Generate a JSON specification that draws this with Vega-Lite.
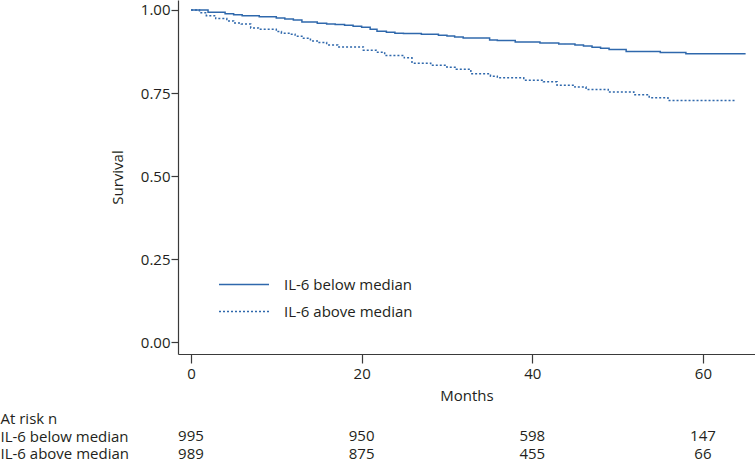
{
  "$schema": "https://vega.github.io/schema/vega-lite/v6.json",
  "padding": {"left": 0, "top": 0, "right": 0, "bottom": 0},
  "autosize": {"type": "pad"},
  "bounds": "flush",
  "spacing": 64.5,
  "config": {
    "view": {"stroke": null},
    "font": "Open Sans",
    "axis": {
      "labelFont": "Open Sans",
      "titleFont": "Open Sans",
      "labelFontSize": 15,
      "titleFontSize": 15,
      "titleFontWeight": "normal",
      "labelColor": "#231f20",
      "titleColor": "#231f20",
      "domainColor": "#3a3a3a",
      "tickColor": "#3a3a3a",
      "domainWidth": 1.2,
      "tickWidth": 1.2,
      "grid": false
    },
    "legend": {
      "labelFont": "Open Sans",
      "labelFontSize": 15,
      "labelColor": "#231f20"
    }
  },
  "datasets": {
    "km": [
      {"group": "IL-6 below median", "month": 0, "surv": 1.0},
      {"group": "IL-6 below median", "month": 2.0, "surv": 0.993},
      {"group": "IL-6 below median", "month": 4.0, "surv": 0.989},
      {"group": "IL-6 below median", "month": 5.0, "surv": 0.986},
      {"group": "IL-6 below median", "month": 6.0, "surv": 0.983},
      {"group": "IL-6 below median", "month": 8.0, "surv": 0.980},
      {"group": "IL-6 below median", "month": 10.0, "surv": 0.976},
      {"group": "IL-6 below median", "month": 11.0, "surv": 0.973},
      {"group": "IL-6 below median", "month": 12.0, "surv": 0.970},
      {"group": "IL-6 below median", "month": 13.0, "surv": 0.964},
      {"group": "IL-6 below median", "month": 14.8, "surv": 0.960},
      {"group": "IL-6 below median", "month": 15.9, "surv": 0.958},
      {"group": "IL-6 below median", "month": 16.9, "surv": 0.956},
      {"group": "IL-6 below median", "month": 18.0, "surv": 0.954},
      {"group": "IL-6 below median", "month": 19.0, "surv": 0.951},
      {"group": "IL-6 below median", "month": 20.0, "surv": 0.948},
      {"group": "IL-6 below median", "month": 21.0, "surv": 0.942},
      {"group": "IL-6 below median", "month": 21.8, "surv": 0.936},
      {"group": "IL-6 below median", "month": 22.9, "surv": 0.933},
      {"group": "IL-6 below median", "month": 23.9, "surv": 0.930},
      {"group": "IL-6 below median", "month": 24.9, "surv": 0.929},
      {"group": "IL-6 below median", "month": 27.0, "surv": 0.927},
      {"group": "IL-6 below median", "month": 29.0, "surv": 0.924},
      {"group": "IL-6 below median", "month": 30.0, "surv": 0.922},
      {"group": "IL-6 below median", "month": 30.9, "surv": 0.919},
      {"group": "IL-6 below median", "month": 31.9, "surv": 0.916},
      {"group": "IL-6 below median", "month": 35.0, "surv": 0.910},
      {"group": "IL-6 below median", "month": 35.9, "surv": 0.908},
      {"group": "IL-6 below median", "month": 38.0, "surv": 0.904},
      {"group": "IL-6 below median", "month": 40.9, "surv": 0.901},
      {"group": "IL-6 below median", "month": 43.1, "surv": 0.898},
      {"group": "IL-6 below median", "month": 45.0, "surv": 0.895},
      {"group": "IL-6 below median", "month": 46.0, "surv": 0.892},
      {"group": "IL-6 below median", "month": 47.0, "surv": 0.888},
      {"group": "IL-6 below median", "month": 48.0, "surv": 0.885},
      {"group": "IL-6 below median", "month": 49.0, "surv": 0.881},
      {"group": "IL-6 below median", "month": 51.0, "surv": 0.875},
      {"group": "IL-6 below median", "month": 55.0, "surv": 0.872},
      {"group": "IL-6 below median", "month": 58.0, "surv": 0.868},
      {"group": "IL-6 below median", "month": 65.0, "surv": 0.868},
      {"group": "IL-6 above median", "month": 0, "surv": 1.0},
      {"group": "IL-6 above median", "month": 1.0, "surv": 0.992},
      {"group": "IL-6 above median", "month": 1.8, "surv": 0.983},
      {"group": "IL-6 above median", "month": 2.9, "surv": 0.974},
      {"group": "IL-6 above median", "month": 4.2, "surv": 0.967},
      {"group": "IL-6 above median", "month": 5.0, "surv": 0.961},
      {"group": "IL-6 above median", "month": 5.9, "surv": 0.958},
      {"group": "IL-6 above median", "month": 7.0, "surv": 0.946},
      {"group": "IL-6 above median", "month": 7.9, "surv": 0.942},
      {"group": "IL-6 above median", "month": 10.0, "surv": 0.935},
      {"group": "IL-6 above median", "month": 10.6, "surv": 0.930},
      {"group": "IL-6 above median", "month": 11.6, "surv": 0.927},
      {"group": "IL-6 above median", "month": 12.2, "surv": 0.921},
      {"group": "IL-6 above median", "month": 13.0, "surv": 0.915},
      {"group": "IL-6 above median", "month": 14.0, "surv": 0.907},
      {"group": "IL-6 above median", "month": 14.9, "surv": 0.902},
      {"group": "IL-6 above median", "month": 15.9, "surv": 0.895},
      {"group": "IL-6 above median", "month": 17.2, "surv": 0.889},
      {"group": "IL-6 above median", "month": 20.2, "surv": 0.879},
      {"group": "IL-6 above median", "month": 21.7, "surv": 0.873},
      {"group": "IL-6 above median", "month": 22.7, "surv": 0.863},
      {"group": "IL-6 above median", "month": 25.0, "surv": 0.856},
      {"group": "IL-6 above median", "month": 25.9, "surv": 0.840},
      {"group": "IL-6 above median", "month": 28.1, "surv": 0.834},
      {"group": "IL-6 above median", "month": 30.0, "surv": 0.828},
      {"group": "IL-6 above median", "month": 31.1, "surv": 0.822},
      {"group": "IL-6 above median", "month": 32.8, "surv": 0.808},
      {"group": "IL-6 above median", "month": 35.1, "surv": 0.801},
      {"group": "IL-6 above median", "month": 35.9, "surv": 0.796},
      {"group": "IL-6 above median", "month": 39.0, "surv": 0.789},
      {"group": "IL-6 above median", "month": 41.3, "surv": 0.784},
      {"group": "IL-6 above median", "month": 42.9, "surv": 0.774},
      {"group": "IL-6 above median", "month": 45.0, "surv": 0.768},
      {"group": "IL-6 above median", "month": 46.3, "surv": 0.761},
      {"group": "IL-6 above median", "month": 48.9, "surv": 0.753},
      {"group": "IL-6 above median", "month": 51.9, "surv": 0.745},
      {"group": "IL-6 above median", "month": 53.7, "surv": 0.736},
      {"group": "IL-6 above median", "month": 55.9, "surv": 0.728},
      {"group": "IL-6 above median", "month": 63.8, "surv": 0.728}
    ],
    "risk": [
      {"row": "IL-6 below median", "month": 0, "n": 995},
      {"row": "IL-6 below median", "month": 20, "n": 950},
      {"row": "IL-6 below median", "month": 40, "n": 598},
      {"row": "IL-6 below median", "month": 60, "n": 147},
      {"row": "IL-6 above median", "month": 0, "n": 989},
      {"row": "IL-6 above median", "month": 20, "n": 875},
      {"row": "IL-6 above median", "month": 40, "n": 455},
      {"row": "IL-6 above median", "month": 60, "n": 66}
    ]
  },
  "vconcat": [
    {
      "width": 577,
      "height": 354,
      "data": {"name": "km"},
      "mark": {"type": "line", "interpolate": "step-after", "color": "#2f68ac", "strokeWidth": 1.5},
      "encoding": {
        "x": {
          "field": "month", "type": "quantitative",
          "scale": {"domain": [-1.52, 66.1], "nice": false, "zero": false},
          "axis": {"values": [0, 20, 40, 60], "format": "d", "title": "Months", "tickSize": 9, "labelPadding": 3, "titlePadding": 7, "labelFlush": false}
        },
        "y": {
          "field": "surv", "type": "quantitative",
          "scale": {"domain": [-0.0346, 1.03], "nice": false, "zero": false},
          "axis": {"values": [0, 0.25, 0.5, 0.75, 1], "format": ".2f", "title": "Survival", "tickSize": 7, "labelPadding": 1, "titlePadding": 15, "labelFlush": false}
        },
        "strokeDash": {
          "field": "group", "type": "nominal",
          "scale": {"domain": ["IL-6 below median", "IL-6 above median"], "range": [[1, 0], [2, 2]]},
          "legend": {
            "title": null, "orient": "none", "legendX": 40, "legendY": 271,
            "symbolType": "stroke", "symbolSize": 2500, "symbolStrokeColor": "#2f68ac", "symbolStrokeWidth": 1.5,
            "clipHeight": 27, "rowPadding": 0, "labelOffset": 14, "padding": 0, "labelLimit": 300
          }
        }
      }
    },
    {
      "width": 577,
      "height": 35,
      "data": {"name": "risk"},
      "mark": {"type": "text", "font": "Open Sans", "fontSize": 15, "color": "#231f20", "align": "center", "baseline": "middle"},
      "encoding": {
        "x": {
          "field": "month", "type": "quantitative",
          "scale": {"domain": [-1.52, 66.1], "nice": false, "zero": false},
          "axis": null
        },
        "y": {
          "field": "row", "type": "nominal",
          "scale": {"type": "point", "domain": ["At risk n", "IL-6 below median", "IL-6 above median"], "padding": 0},
          "axis": {"title": null, "domain": false, "ticks": false, "labelAlign": "left", "labelPadding": 178, "labelBaseline": "middle", "labelLimit": 300}
        },
        "text": {"field": "n", "type": "quantitative"}
      }
    }
  ]
}
